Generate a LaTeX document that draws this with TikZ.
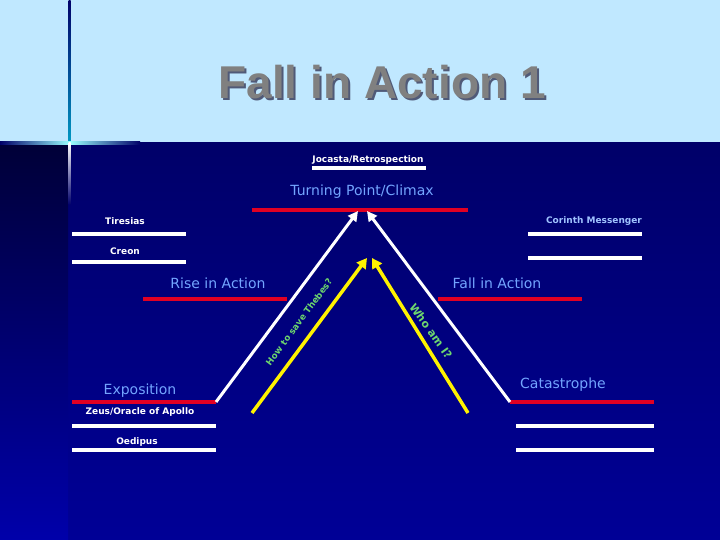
\documentclass[tikz,border=0pt]{standalone}
\usepackage{fontspec}
\setmainfont{DejaVu Sans}
\newfontfamily\titlefont{Liberation Sans}
\usetikzlibrary{arrows.meta}

\definecolor{skyband}{RGB}{192,232,255}
\definecolor{navytop}{RGB}{0,0,105}
\definecolor{navybot}{RGB}{0,0,150}
\definecolor{stripdark}{RGB}{0,0,55}
\definecolor{striplight}{RGB}{0,0,170}
\definecolor{barred}{RGB}{225,0,35}
\definecolor{labelblue}{RGB}{115,165,255}
\definecolor{paleblue}{RGB}{160,195,255}
\definecolor{qgreen}{RGB}{110,215,110}
\definecolor{titlegray}{RGB}{128,128,128}
\definecolor{titleshadow}{RGB}{80,90,120}

\begin{document}
\begin{tikzpicture}[x=1pt, y=-1pt,
    whitebar/.style={draw=white, line width=3.5pt},
    redbar/.style={draw=barred, line width=3.5pt},
    stage/.style={text=labelblue, font=\fontsize{14}{16}\selectfont, inner sep=0pt},
    person/.style={text=white, font=\bfseries\fontsize{9}{10}\selectfont, inner sep=0pt},
    question/.style={text=qgreen, font=\bfseries, inner sep=0pt},
    whitearrow/.style={draw=white, line width=3pt, -{Triangle[length=10pt,width=10pt]}},
    yellowarrow/.style={draw=yellow, line width=3.5pt, -{Triangle[length=10pt,width=11pt]}}]

    % Background: light title band and dark navy body
    \useasboundingbox (0,0) rectangle (720,540);
    \fill[skyband] (0,0) rectangle (720,143);
    \shade[top color=navytop, bottom color=navybot] (0,143) rectangle (720,540);
    \shade[top color=stripdark, bottom color=striplight] (0,143) rectangle (68,540);

    % Thin vertical rule with its glare
    \shade[top color=navytop, bottom color=navytop!40!cyan] (68.5,0) rectangle (70.5,143);
    \shade[left color=navytop, right color=navytop, middle color=white!60!cyan] (0,142) rectangle (140,145);
    \shade[top color=white, bottom color=navytop] (68.5,143) rectangle (70.5,205);

    % Title (with its shadow)
    \node[text=titleshadow, font=\titlefont\bfseries\fontsize{46}{50}\selectfont] (titleshade) at (384,84) {Fall in Action 1};
    \node[text=titlegray, font=\titlefont\bfseries\fontsize{46}{50}\selectfont] (title) at (382,82) {Fall in Action 1};

    % Climax
    \node[person] (jocasta) at (368,160) {Jocasta/Retrospection};
    \draw[whitebar] (312,168) -- (426,168);
    \node[stage] (climax) at (362,192) {Turning Point/Climax};
    \draw[redbar] (252,210) -- (468,210);
    \coordinate (peakL) at (358,211);
    \coordinate (peakR) at (367,211);

    % Upper left and right characters
    \node[person] (tiresias) at (125,221) {Tiresias};
    \draw[whitebar] (72,234) -- (186,234);
    \node[person] (creon) at (125,251) {Creon};
    \draw[whitebar] (72,262) -- (186,262);
    \node[person, text=paleblue] (corinth) at (594,221) {Corinth Messenger};
    \draw[whitebar] (528,234) -- (642,234);
    \draw[whitebar] (528,258) -- (642,258);

    % Rise and fall
    \node[stage] (rise) at (218,283) {Rise in Action};
    \draw[redbar] (143,299) -- (287,299);
    \node[stage] (fall) at (497,283) {Fall in Action};
    \draw[redbar] (438,299) -- (582,299);

    % Exposition side
    \node[stage] (exposition) at (140,391) {Exposition};
    \draw[redbar] (72,402) -- (216,402);
    \coordinate (expoEnd) at (216,402);
    \node[person] (zeus) at (140,412) {Zeus/Oracle of Apollo};
    \draw[whitebar] (72,426) -- (216,426);
    \node[person] (oedipus) at (137,442) {Oedipus};
    \draw[whitebar] (72,450) -- (216,450);

    % Catastrophe side
    \node[stage] (catastrophe) at (563,385) {Catastrophe};
    \draw[redbar] (510,402) -- (654,402);
    \coordinate (catEnd) at (510,402);
    \draw[whitebar] (516,426) -- (654,426);
    \draw[whitebar] (516,450) -- (654,450);

    % Plot line up to the climax
    \draw[whitearrow] (expoEnd) -- (peakL);
    \draw[whitearrow] (catEnd) -- (peakR);

    % Questions driving each half
    \coordinate (askL) at (252,413);
    \coordinate (askR) at (468,413);
    \coordinate (tipL) at (367,258);
    \coordinate (tipR) at (372,258);
    \draw[yellowarrow] (askL) -- (tipL);
    \draw[yellowarrow] (askR) -- (tipR);
    \node[question, font=\bfseries\fontsize{8.8}{10}\selectfont, rotate=53.5] (thebes) at (299,322) {How to save Thebes?};
    \node[question, font=\bfseries\fontsize{11}{12}\selectfont, rotate=-54.5] (whoami) at (431,331) {Who am I?};
\end{tikzpicture}
\end{document}
